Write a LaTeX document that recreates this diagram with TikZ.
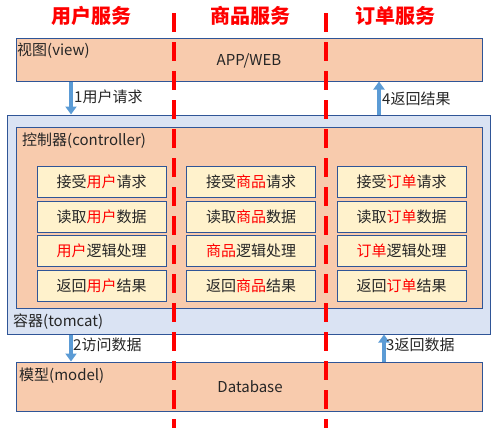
\documentclass[tikz,border=0pt]{standalone}
\usepackage{fontspec}
\setmainfont{Noto Sans CJK SC}
\usetikzlibrary{arrows.meta, positioning, calc}
\definecolor{PeachFill}{HTML}{F8CBAD}
\definecolor{PaleBlue}{HTML}{DAE3F3}
\definecolor{CreamFill}{HTML}{FFF2CC}
\definecolor{EdgeBlue}{HTML}{2F5597}
\definecolor{ArrowBlue}{HTML}{5B9BD5}
\definecolor{HiRed}{HTML}{FF0000}
\newcommand{\hl}[1]{\textcolor{HiRed}{#1}}
\newcommand{\txtsize}{\fontsize{15}{18}\selectfont}

\begin{document}
\begin{tikzpicture}[
    x=1pt, y=-1pt,
    layer/.style={draw=EdgeBlue, line width=1pt, fill=PeachFill, inner sep=0pt,
        minimum width=466pt},
    cell/.style={draw=EdgeBlue, line width=1pt, fill=CreamFill, inner sep=0pt,
        minimum width=129pt, minimum height=31pt, font=\txtsize, text=black!85},
    lbl/.style={font=\txtsize, text=black!85, inner sep=0pt, anchor=base west},
    title/.style={font=\fontsize{20}{24}\selectfont\bfseries, text=HiRed, inner sep=0pt, anchor=base},
    flow/.style={-{Triangle[length=8pt, width=11pt]}, line width=4pt, ArrowBlue},
    sep/.style={HiRed, line width=4pt, dash pattern=on 19pt off 10pt},
]
\useasboundingbox (0,0) rectangle (500,434);

% ================= titles =================
\node[title] (tU) at (91,23) {用户服务};
\node[title] (tG) at (250,23) {商品服务};
\node[title] (tO) at (395,23) {订单服务};

% ================= layers =================
\node[draw=EdgeBlue, line width=1pt, fill=PaleBlue, inner sep=0pt,
      minimum width=483pt, minimum height=219pt] (tomcat) at (248.5,224.5) {};
\node[layer, minimum height=181pt] (ctrl) at (249,217.5) {};
\node[layer, minimum height=43pt] (view) at (249,59.5) {};
\node[layer, minimum height=49pt] (model) at (249,386.5) {};

% ================= controller cells =================
\node[cell] (u1) at (101.5,182) {接受\hl{用户}请求};
\node[cell, below=2.5pt of u1] (u2) {读取\hl{用户}数据};
\node[cell, below=2.5pt of u2] (u3) {\hl{用户}逻辑处理};
\node[cell, below=2.5pt of u3] (u4) {返回\hl{用户}结果};

\node[cell] (g1) at (251,182) {接受\hl{商品}请求};
\node[cell, below=2.5pt of g1] (g2) {读取\hl{商品}数据};
\node[cell, below=2.5pt of g2] (g3) {\hl{商品}逻辑处理};
\node[cell, below=2.5pt of g3] (g4) {返回\hl{商品}结果};

\node[cell] (o1) at (401.5,182) {接受\hl{订单}请求};
\node[cell, below=2.5pt of o1] (o2) {读取\hl{订单}数据};
\node[cell, below=2.5pt of o2] (o3) {\hl{订单}逻辑处理};
\node[cell, below=2.5pt of o3] (o4) {返回\hl{订单}结果};

% ================= layer labels =================
\node[lbl] (viewlbl) at (17,55) {视图(view)};
\node[lbl, anchor=base] (viewtxt) at (249,65) {APP/WEB};
\node[lbl] (ctrllbl) at (22,145) {控制器(controller)};
\node[lbl] (tomlbl) at (13,326) {容器(tomcat)};
\node[lbl] (modellbl) at (19,380) {模型(model)};
\node[lbl, anchor=base] (modeltxt) at (250,392) {Database};

% ================= requests / responses =================
\coordinate (reqx) at (71,0);
\coordinate (respx) at (379,0);
\coordinate (datx) at (384,0);
\draw[flow] (view.south -| reqx) -- (tomcat.north -| reqx);
\draw[flow] (tomcat.north -| respx) -- (view.south -| respx);
\draw[flow] (tomcat.south -| reqx) -- (model.north -| reqx);
\draw[flow] (model.north -| datx) -- (tomcat.south -| datx);
\node[lbl] (s1) at (74,102) {1用户请求};
\node[lbl] (s4) at (382,104) {4返回结果};
\node[lbl] (s2) at (73,350) {2访问数据};
\node[lbl] (s3) at (386,350) {3返回数据};

% ================= service borders =================
\coordinate (sepA) at (174,13);
\coordinate (sepB) at (326,13);
\draw[sep] (sepA) -- ++(0,415);
\draw[sep] (sepB) -- ++(0,415);

\end{tikzpicture}
\end{document}
